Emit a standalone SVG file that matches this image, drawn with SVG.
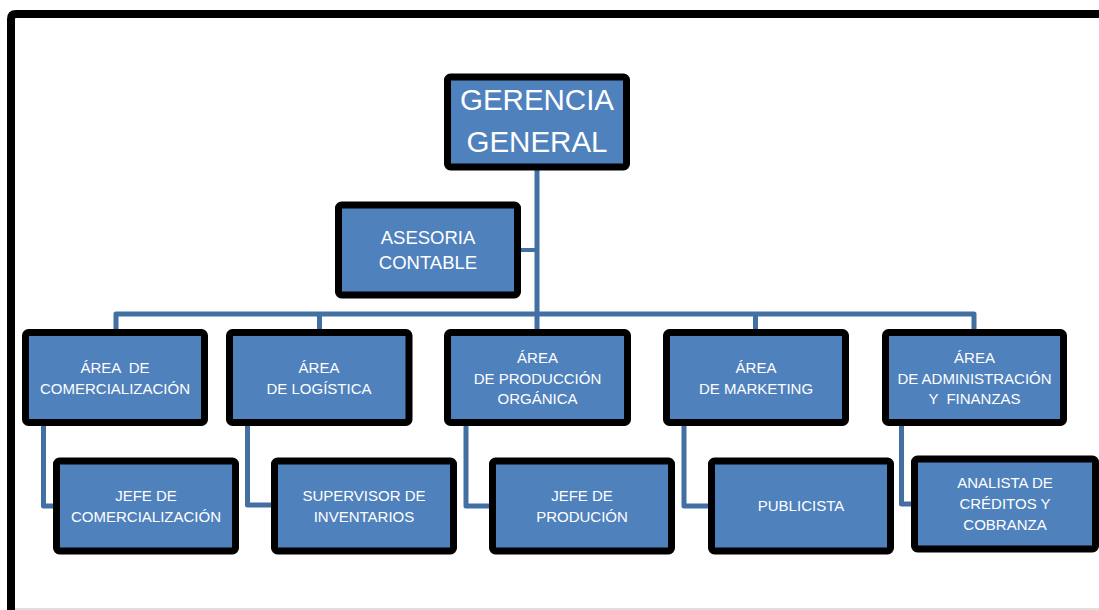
<svg xmlns="http://www.w3.org/2000/svg" width="1099" height="610" viewBox="0 0 1099 610">
<style>
.box{fill:#4f81bd;stroke:#000;stroke-width:7;}
.t{fill:#fff;font-family:"Liberation Sans",Arial,sans-serif;text-anchor:middle;white-space:pre;}
.s15{font-size:15px;}
.s18{font-size:18.5px;}
.s30{font-size:29.5px;}
.ln{fill:none;stroke:#4270a3;stroke-width:5;stroke-linejoin:round;}
</style>
<rect x="0" y="0" width="1099" height="610" fill="#fff"/>
<g id="frame">
<path d="M11,612 V19 Q11,14 16,14 H1100" fill="none" stroke="#000" stroke-width="8"/>
<line x1="15" y1="609" x2="1099" y2="609" stroke="#d4d4d4" stroke-width="1.5"/>
</g>
<g id="connectors">
<path class="ln" d="M537,170 V332"/>
<path class="ln" d="M518,250 H537" style="stroke-width:4"/>
<path class="ln" d="M116,332 V314 H974 V332"/>
<path class="ln" d="M319.5,314 V332"/>
<path class="ln" d="M755.5,314 V332"/>
<path class="ln" d="M43.5,424 V506 H58"/>
<path class="ln" d="M247.5,424 V505 H276"/>
<path class="ln" d="M466,424 V506 H494"/>
<path class="ln" d="M684,424 V506 H713"/>
<path class="ln" d="M901.5,424 V504 H916"/>
</g>
<g id="gerencia">
<rect class="box" x="447.5" y="77" width="179" height="90" rx="3"/>
<text class="t s30" x="537" y="110">GERENCIA</text>
<text class="t s30" x="537" y="152">GENERAL</text>
</g>
<g id="asesoria">
<rect class="box" x="338.5" y="205" width="179" height="90" rx="3"/>
<text class="t s18" x="428" y="244">ASESORIA</text>
<text class="t s18" x="428" y="269">CONTABLE</text>
</g>
<g id="area-comercializacion">
<rect class="box" x="25.5" y="332.5" width="179" height="90" rx="3"/>
<text class="t s15" x="115" y="373">ÁREA  DE</text>
<text class="t s15" x="115" y="394">COMERCIALIZACIÓN</text>
</g>
<g id="area-logistica">
<rect class="box" x="229.5" y="332.5" width="179.5" height="90" rx="3"/>
<text class="t s15" x="319" y="373">ÁREA</text>
<text class="t s15" x="319" y="394">DE LOGÍSTICA</text>
</g>
<g id="area-produccion">
<rect class="box" x="447.5" y="332.5" width="180" height="90" rx="3"/>
<text class="t s15" x="537.5" y="363">ÁREA</text>
<text class="t s15" x="537.5" y="384">DE PRODUCCIÓN</text>
<text class="t s15" x="537.5" y="404">ORGÁNICA</text>
</g>
<g id="area-marketing">
<rect class="box" x="666.5" y="332.5" width="179" height="90" rx="3"/>
<text class="t s15" x="756" y="373">ÁREA</text>
<text class="t s15" x="756" y="394">DE MARKETING</text>
</g>
<g id="area-administracion">
<rect class="box" x="885.5" y="332.5" width="178" height="90" rx="3"/>
<text class="t s15" x="974.5" y="363">ÁREA</text>
<text class="t s15" x="974.5" y="384">DE ADMINISTRACIÓN</text>
<text class="t s15" x="974.5" y="404">Y  FINANZAS</text>
</g>
<g id="jefe-comercializacion">
<rect class="box" x="56.5" y="461" width="179" height="90" rx="3"/>
<text class="t s15" x="146" y="501">JEFE DE</text>
<text class="t s15" x="146" y="522">COMERCIALIZACIÓN</text>
</g>
<g id="supervisor-inventarios">
<rect class="box" x="274.5" y="461" width="179" height="90" rx="3"/>
<text class="t s15" x="364" y="501">SUPERVISOR DE</text>
<text class="t s15" x="364" y="522">INVENTARIOS</text>
</g>
<g id="jefe-produccion">
<rect class="box" x="492.5" y="461" width="179" height="90" rx="3"/>
<text class="t s15" x="582" y="501">JEFE DE</text>
<text class="t s15" x="582" y="522">PRODUCIÓN</text>
</g>
<g id="publicista">
<rect class="box" x="711.5" y="461" width="179" height="90" rx="3"/>
<text class="t s15" x="801" y="511">PUBLICISTA</text>
</g>
<g id="analista">
<rect class="box" x="914.5" y="459" width="181" height="90" rx="3"/>
<text class="t s15" x="1005" y="488">ANALISTA DE</text>
<text class="t s15" x="1005" y="509">CRÉDITOS Y</text>
<text class="t s15" x="1005" y="530">COBRANZA</text>
</g>
</svg>
